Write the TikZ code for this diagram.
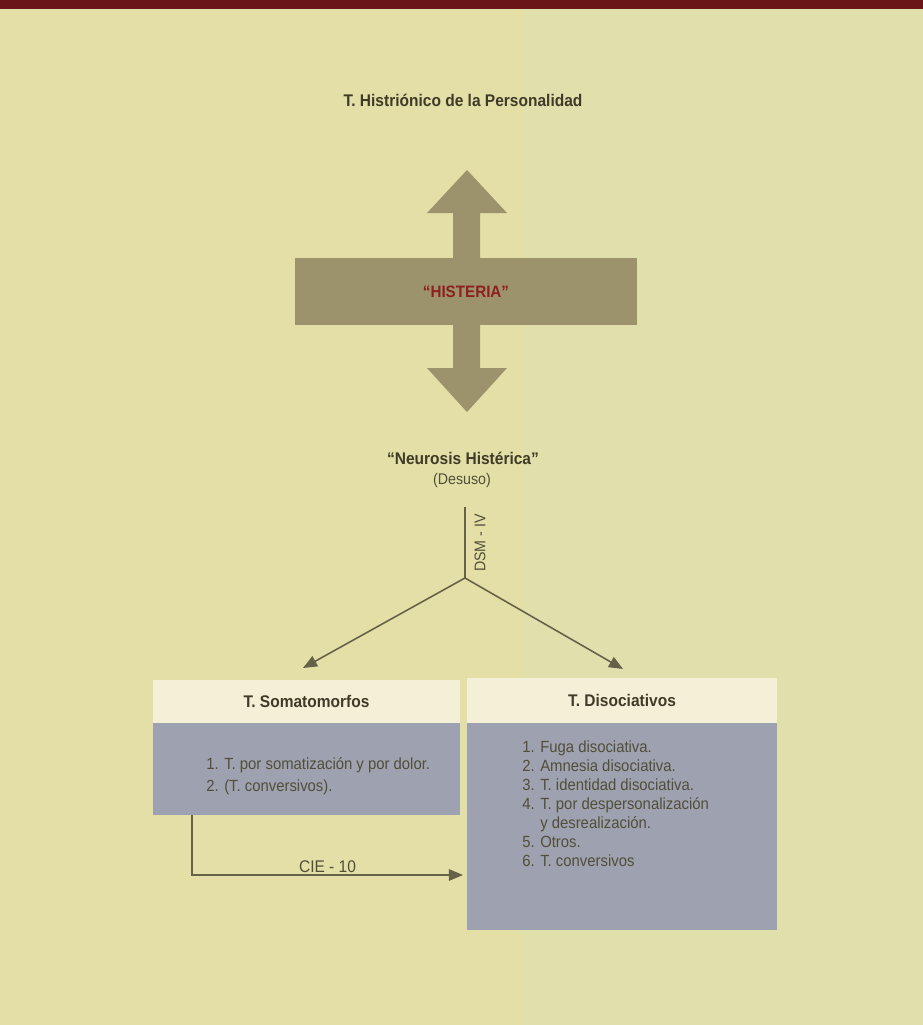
\documentclass[tikz,border=0pt]{standalone}
\usepackage{fontspec}
\setmainfont{Liberation Sans}[FakeStretch=0.92]
\usetikzlibrary{arrows.meta,positioning}

\definecolor{pagebg}{HTML}{E3DFA6}
\definecolor{pagebgr}{HTML}{E0E0AC}
\definecolor{barred}{HTML}{6A1518}
\definecolor{inkdark}{HTML}{3F3B28}
\definecolor{inkmid}{HTML}{524E38}
\definecolor{connline}{HTML}{66624A}
\definecolor{arrowfill}{HTML}{9C936C}
\definecolor{histred}{HTML}{8E1F1F}
\definecolor{hdrfill}{HTML}{F4F0D8}
\definecolor{listfill}{HTML}{9DA1B0}

\begin{document}
\begin{tikzpicture}[x=0.02cm,y=-0.02cm,
    lbl/.style={font=\fontsize{9.6}{11}\selectfont\bfseries, text=inkdark, inner sep=1pt},
    plain/.style={font=\fontsize{8.8}{10}\selectfont, text=inkmid, inner sep=1pt},
    items/.style={font=\fontsize{9.2}{10.9}\selectfont, text=inkmid, align=left, inner sep=0pt},
    hdrbox/.style={lbl, fill=hdrfill, outer sep=0pt},
    listbox/.style={fill=listfill, outer sep=0pt},
    conn/.style={draw=connline, line width=0.9pt},
    tip/.style={-{Triangle[length=8pt,width=6.5pt]}}]
  % page
  \useasboundingbox (0,0) rectangle (923,1025);
  \fill[pagebg] (0,0) rectangle (923,1025);
  \fill[pagebgr] (525,9) rectangle (923,1025);
  \fill[barred] (0,0) rectangle (923,9);
  % top
  \node[lbl] (title) at (463,100) {T. Histriónico de la Personalidad};
  % double arrow and band
  \fill[arrowfill] (467,170) -- (507,213) -- (480,213) -- (480,368) -- (507,368)
    -- (467,412) -- (427,368) -- (453,368) -- (453,213) -- (427,213) -- cycle;
  \node[fill=arrowfill, minimum width=6.84cm, minimum height=1.34cm,
    font=\fontsize{9.4}{11}\selectfont\bfseries, text=histred] (histeria) at (466,291.5) {“HISTERIA”};
  % neurosis
  \node[lbl] (neurosis) at (463,458) {“Neurosis Histérica”};
  \node[plain] (desuso) at (462,480) {(Desuso)};
  \coordinate (dsmtop) at (465,507);
  \coordinate (fork) at (465,578);
  \coordinate (somatip) at (303,668);
  \coordinate (distip) at (623,669);
  \draw[conn] (dsmtop) -- (fork);
  \node[plain, rotate=90] (dsm) at (480,543) {DSM - IV};
  \draw[conn, tip] (fork) -- (somatip);
  \draw[conn, tip] (fork) -- (distip);
  % T. Somatomorfos
  \node[hdrbox, minimum width=6.14cm, minimum height=0.86cm] (somahead) at (306.5,701.5) {T. Somatomorfos};
  \node[listbox, minimum width=6.14cm, minimum height=1.84cm, below=0pt of somahead] (somalist) {};
  \node[items, font=\fontsize{9.2}{12.5}\selectfont, anchor=north west] (somaitems) at (206,757)
    {1. T. por somatización y por dolor.\\2. (T. conversivos).};
  % T. Disociativos
  \node[hdrbox, minimum width=6.2cm, minimum height=0.9cm] (dishead) at (622,700.5) {T. Disociativos};
  \node[listbox, minimum width=6.2cm, minimum height=4.14cm, below=0pt of dishead] (dislist) {};
  \node[items, anchor=north west] (disitems) at (522,740)
    {1. Fuga disociativa.\\2. Amnesia disociativa.\\3. T. identidad disociativa.\\
     4. T. por despersonalización\\\hphantom{4. }y desrealización.\\5. Otros.\\6. T. conversivos};
  % CIE - 10
  \coordinate (cieend) at (463,875);
  \draw[conn, tip] ([xshift=0.78cm]somalist.south west) |- node[plain, font=\fontsize{9.6}{11}\selectfont, above, pos=0.75] (cie) {CIE - 10} (cieend);
\end{tikzpicture}
\end{document}
